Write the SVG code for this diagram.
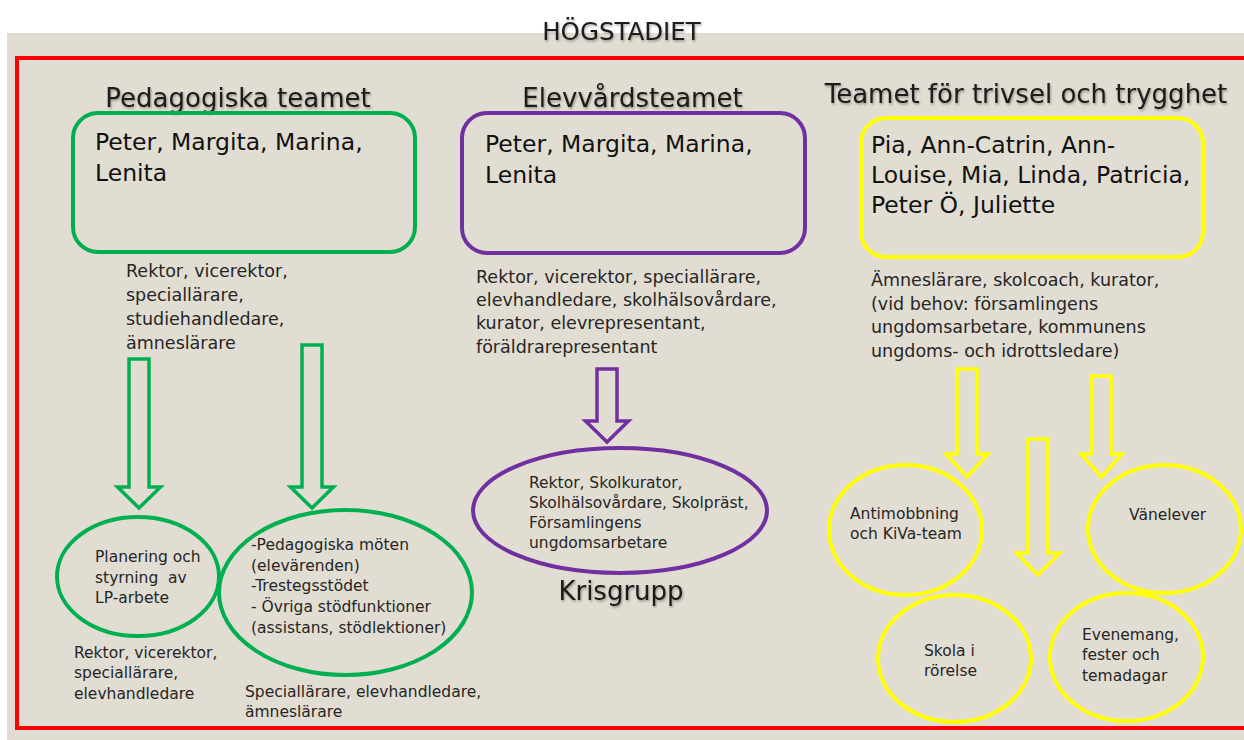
<svg xmlns="http://www.w3.org/2000/svg" width="1244" height="740" viewBox="0 0 1244 740">
<defs>
<filter id="sh" x="-5%" y="-20%" width="110%" height="150%">
<feDropShadow dx="1" dy="1.5" stdDeviation="0.8" flood-color="#000" flood-opacity="0.35"/>
</filter>
</defs>
<style>
text{font-family:"DejaVu Sans","Liberation Sans",sans-serif;fill:#1a1a1a}
.title{font-size:24.5px}
.head{font-size:26px;text-anchor:middle}
.names{font-size:23.5px;fill:#111}
.members{font-size:17.5px;fill:#262626}
.small{font-size:15.5px;fill:#262626}
.cap{font-size:15.5px;fill:#262626}
.g{stroke:#00B050;fill:none}
.p{stroke:#7030A0;fill:none}
.y{stroke:#FFFF00;fill:none}
.box{stroke-width:4}
.ell{stroke-width:4}
.arr{stroke-width:3.5;stroke-linejoin:miter}
</style>
<rect x="7" y="33" width="1237" height="707" fill="#E2DDD2"/>
<rect x="17" y="58" width="1240" height="670" fill="none" stroke="#FF0000" stroke-width="4"/>
<text class="title" x="621.5" y="40" text-anchor="middle" filter="url(#sh)">HÖGSTADIET</text>

<g id="connectors">
<polygon class="g arr" points="129,359 149,359 149,487 160.5,487 139,508 117.5,487 129,487"/>
<polygon class="g arr" points="302,345 322,345 322,487 333.5,487 312,508 290.5,487 302,487"/>
<polygon class="p arr" points="597,369 617,369 617,421 628.5,421 607,442 585.5,421 597,421"/>
<polygon class="y arr" points="957,369 977,369 977,454 988,454 967,477 946,454 957,454"/>
<polygon class="y arr" points="1092,376 1111,376 1111,454 1122,454 1101.5,477 1081,454 1092,454"/>
<polygon class="y arr" points="1028,439 1048,439 1048,553 1059.5,553 1038,575 1016.5,553 1028,553"/>
</g>

<g id="pedagogiska-teamet">
<text class="head" x="238" y="107" font-size="27.5" filter="url(#sh)">Pedagogiska teamet</text>
<rect class="g box" x="73" y="113" width="342" height="139" rx="25"/>
<text class="names" x="95" y="150">Peter, Margita, Marina,</text>
<text class="names" x="95" y="181">Lenita</text>
<text class="members" x="126" y="277">Rektor, vicerektor,</text>
<text class="members" x="126" y="301">speciallärare,</text>
<text class="members" x="126" y="325">studiehandledare,</text>
<text class="members" x="126" y="349">ämneslärare</text>
</g>

<g id="planering">
<ellipse class="g ell" cx="138" cy="576.5" rx="81" ry="59.5"/>
<text class="small" x="95" y="562">Planering och</text>
<text class="small" x="95" y="583" style="white-space:pre">styrning  av</text>
<text class="small" x="95" y="603">LP-arbete</text>
<text class="cap" x="74" y="658" font-size="15">Rektor, vicerektor,</text>
<text class="cap" x="74" y="678" font-size="15">speciallärare,</text>
<text class="cap" x="74" y="699" font-size="15">elevhandledare</text>
</g>

<g id="pedagogiska-moten">
<ellipse class="g ell" cx="345.5" cy="592.5" rx="126.5" ry="82.5"/>
<text class="small" x="251" y="550">-Pedagogiska möten</text>
<text class="small" x="251" y="571">(elevärenden)</text>
<text class="small" x="251" y="591">-Trestegsstödet</text>
<text class="small" x="251" y="612">- Övriga stödfunktioner</text>
<text class="small" x="251" y="633" font-size="15">(assistans, stödlektioner)</text>
<text class="cap" x="245" y="697" font-size="16">Speciallärare, elevhandledare,</text>
<text class="cap" x="245" y="717" font-size="16">ämneslärare</text>
</g>

<g id="elevvardsteamet">
<text class="head" x="632.5" y="107" filter="url(#sh)">Elevvårdsteamet</text>
<rect class="p box" x="462" y="113" width="343" height="140" rx="25"/>
<text class="names" x="485" y="152">Peter, Margita, Marina,</text>
<text class="names" x="485" y="183">Lenita</text>
<text class="members" x="476" y="283">Rektor, vicerektor, speciallärare,</text>
<text class="members" x="476" y="306">elevhandledare, skolhälsovårdare,</text>
<text class="members" x="476" y="329">kurator, elevrepresentant,</text>
<text class="members" x="476" y="353">föräldrarepresentant</text>
</g>

<g id="krisgrupp">
<ellipse class="p ell" cx="620" cy="510.5" rx="147" ry="62.5"/>
<text class="small" x="529" y="488" font-size="15">Rektor, Skolkurator,</text>
<text class="small" x="529" y="508" font-size="15">Skolhälsovårdare, Skolpräst,</text>
<text class="small" x="529" y="528" font-size="15">Församlingens</text>
<text class="small" x="529" y="548" font-size="15">ungdomsarbetare</text>
<text class="head" x="621" y="600" font-size="24" filter="url(#sh)">Krisgrupp</text>
</g>

<g id="teamet-trivsel">
<text class="head" x="1026" y="103" font-size="25.5" filter="url(#sh)">Teamet för trivsel och trygghet</text>
<rect class="y box" x="861" y="118" width="342" height="139" rx="25"/>
<text class="names" x="871" y="153">Pia, Ann-Catrin, Ann-</text>
<text class="names" x="871" y="183">Louise, Mia, Linda, Patricia,</text>
<text class="names" x="871" y="213">Peter Ö, Juliette</text>
<text class="members" x="871" y="286">Ämneslärare, skolcoach, kurator,</text>
<text class="members" x="871" y="310">(vid behov: församlingens</text>
<text class="members" x="871" y="333">ungdomsarbetare, kommunens</text>
<text class="members" x="871" y="357">ungdoms- och idrottsledare)</text>
</g>

<g id="antimobbning">
<ellipse class="y ell" cx="905.5" cy="530" rx="76.5" ry="65"/>
<text class="small" x="850" y="519" font-size="16">Antimobbning</text>
<text class="small" x="850" y="539" font-size="16">och KiVa-team</text>
</g>

<g id="vanelever">
<ellipse class="y ell" cx="1164.5" cy="529" rx="76.5" ry="64"/>
<text class="small" x="1129" y="520" font-size="16">Vänelever</text>
</g>

<g id="skola-i-rorelse">
<ellipse class="y ell" cx="954.5" cy="658.5" rx="76.5" ry="63.5"/>
<text class="small" x="924" y="656">Skola i</text>
<text class="small" x="924" y="676">rörelse</text>
</g>

<g id="evenemang">
<ellipse class="y ell" cx="1126.5" cy="657" rx="76.5" ry="64"/>
<text class="small" x="1082" y="640">Evenemang,</text>
<text class="small" x="1082" y="660">fester och</text>
<text class="small" x="1082" y="681">temadagar</text>
</g>
</svg>
